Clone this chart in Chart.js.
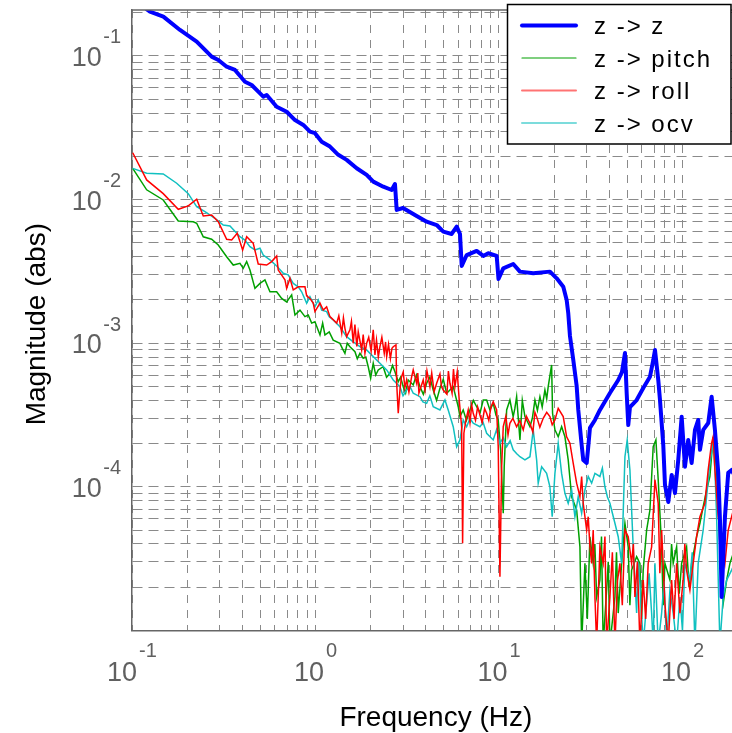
<!DOCTYPE html>
<html>
<head>
<meta charset="utf-8">
<script src="https://cdn.jsdelivr.net/npm/chart.js"></script>
<style>
  html, body { margin: 0; padding: 0; background: #fff; overflow: hidden; }
  #graph { display: block; }
</style>
</head>
<body>
<canvas id="graph" width="740" height="733"></canvas>
<script>
// Transfer magnitude from z excitation to each measured channel (abs, log-log)

// z -> z
const freqZ = [0.12, 0.1253, 0.1482, 0.1826, 0.2252, 0.2718, 0.2954, 0.3281, 0.364, 0.4127,
  0.449, 0.4879, 0.5193, 0.5421, 0.6144, 0.6966, 0.7732, 0.858, 0.9333, 0.9937,
  1.081, 1.199, 1.331, 1.479, 1.677, 1.901, 2.065, 2.342, 2.602, 2.711,
  2.77, 2.999, 3.56, 4.036, 4.577, 4.972, 5.524, 5.883, 6.132, 6.264,
  6.668, 7.559, 8.211, 8.743, 9.716, 9.94, 10.55, 11.96, 13.01, 15.38,
  18.96, 20.63, 22.41, 23.38, 23.86, 24.37, 25.41, 26.51, 27.05, 28.23,
  28.8, 30.06, 30.66, 31.32, 33.36, 35.51, 40.26, 44.68, 46.8, 48.6,
  49.65, 50.66, 51.75, 56.28, 61.15, 66.53, 69.34, 70.83, 73.82, 75.42,
  78.6, 80.3, 83.7, 87.34, 91.03, 94.86, 99.0, 103.2, 107.5, 112.2,
  117.0, 121.9, 124.6, 129.8, 138.2, 144.2, 150.3, 156.7, 160.1, 163.5,
  170.4, 177.6, 185.4, 198];
const magZ = [0.212, 0.2034, 0.1878, 0.1517, 0.1258, 0.0989, 0.0938, 0.0842, 0.0799, 0.0662,
  0.0628, 0.0564, 0.0521, 0.0535, 0.0443, 0.0409, 0.0358, 0.0331, 0.0297, 0.029,
  0.0253, 0.0234, 0.0205, 0.0189, 0.01652, 0.01484, 0.01333, 0.0123, 0.01166, 0.01284,
  0.00847, 0.00874, 0.00769, 0.00702, 0.00665, 0.00598, 0.00576, 0.00648, 0.00576, 0.00345,
  0.00411, 0.00439, 0.00405, 0.00423, 0.00405, 0.0028, 0.00332, 0.00356, 0.00315, 0.00307,
  0.00315, 0.00283, 0.00247, 0.002, 0.001615, 0.001122, 0.000764, 0.000503, 0.000343, 0.000195,
  0.0001537, 0.0001464, 0.00019, 0.000257, 0.000292, 0.000343, 0.00045, 0.000554, 0.00063, 0.000855,
  0.00045, 0.000269, 0.000359, 0.000402, 0.000488, 0.000584, 0.000764, 0.000897, 0.000554, 0.000402,
  0.000195, 0.000103, 0.0000784, 0.000121, 0.0000905, 0.000154, 0.000308, 0.000138, 0.000212, 0.0001464,
  0.000249, 0.000292, 0.000181, 0.000249, 0.000278, 0.000424, 0.000249, 0.000125, 0.0000587, 0.0000171,
  0.0000616, 0.000125, 0.000131, 0.000112];

// z -> pitch
const freqPitch = [0.1009, 0.1202, 0.148, 0.1787, 0.2157, 0.2252, 0.2446, 0.2717, 0.2952, 0.328,
  0.3563, 0.3876, 0.4039, 0.4216, 0.4394, 0.4678, 0.4982, 0.5304, 0.5648, 0.6143,
  0.6541, 0.6964, 0.7416, 0.7729, 0.8229, 0.8762, 0.913, 0.953, 0.9933, 1.058,
  1.094, 1.126, 1.188, 1.249, 1.359, 1.4, 1.447, 1.49, 1.541, 1.641,
  1.69, 1.747, 1.82, 1.88, 1.938, 1.998, 2.064, 2.13, 2.198, 2.339,
  2.44, 2.546, 2.63, 2.711, 2.825, 2.91, 3.007, 3.1, 3.202, 3.409,
  3.55, 3.709, 3.87, 4.035, 4.2, 4.382, 4.57, 4.767, 4.97, 5.186,
  5.632, 5.997, 6.127, 6.384, 6.65, 6.946, 7.25, 7.556, 7.9, 8.206,
  8.566, 8.928, 9.303, 9.626, 9.905, 10.21, 10.55, 10.68, 11.01, 11.47,
  11.95, 12.2, 12.48, 13.01, 13.4, 13.85, 14.75, 15.2, 15.7, 16.2,
  16.72, 17.2, 17.8, 18.2, 18.55, 19.36, 19.59, 20.18, 21.03, 21.95,
  22.88, 23.84, 24.89, 26.5, 27.62, 28.22, 29.41, 30.3, 31.31, 32.62,
  33.3, 34.06, 35.49, 36.2, 36.98, 38.61, 39.4, 40.24, 42.85, 43.7,
  44.65, 46.61, 48.58, 50.62, 51.7, 52.84, 56.26, 58.63, 59.9, 61.09,
  63.78, 66.47, 69.26, 71.67, 73.75, 76.99, 78.5, 80.24, 85.43, 87.2,
  89.02, 92.93, 96, 98.95, 105.3, 108.7, 112.2, 119.4, 124.5, 129.7,
  135.4, 141.1, 147.0, 153.5, 160.0, 166.7, 174.1, 181.4, 196];
const magPitch = [0.0165, 0.0117, 0.00994, 0.0071, 0.00701, 0.00684, 0.00551, 0.00529, 0.00483, 0.004,
  0.0035, 0.0036, 0.00332, 0.0037, 0.00323, 0.00241, 0.00261, 0.00276, 0.00228, 0.00228,
  0.00205, 0.00194, 0.00217, 0.00157, 0.0017, 0.00153, 0.00157, 0.00138, 0.00141, 0.00114,
  0.00138, 0.00114, 0.0012, 0.00105, 0.000998, 0.00092, 0.00085, 0.001, 0.000945, 0.000873,
  0.00078, 0.00085, 0.000785, 0.0008, 0.000686, 0.00057, 0.000725, 0.0006, 0.000651, 0.000686,
  0.00058, 0.000617, 0.0007, 0.000633, 0.000539, 0.00058, 0.000498, 0.00045, 0.000555, 0.000512,
  0.0006, 0.000498, 0.00044, 0.000526, 0.00058, 0.000472, 0.0004, 0.000485, 0.00056, 0.000448,
  0.000498, 0.000361, 0.000308, 0.000343, 0.00029, 0.000343, 0.0004, 0.000361, 0.00033, 0.000402,
  0.000402, 0.000343, 0.000381, 0.000316, 0.000292, 0.00018, 0.0000654, 0.000138, 0.000343, 0.000402,
  0.000308, 0.00035, 0.000424, 0.000212, 0.0004, 0.000308, 0.000262, 0.0003, 0.000402, 0.00034,
  0.000424, 0.00036, 0.000472, 0.00041, 0.000498, 0.000705, 0.000325, 0.000249, 0.000223, 0.000262,
  0.000223, 0.000154, 0.0000853, 0.0000689, 0.0000382, 0.000008, 0.0000293, 0.000012, 0.0000449, 0.0000293,
  0.00004, 0.0000171, 0.0000224, 0.000045, 0.000008, 0.0000191, 0.00003, 0.000008, 0.0000171, 0.000035,
  0.0000132, 0.0000293, 0.0000557, 0.0000382, 0.000015, 0.0000263, 0.0000326, 0.0000293, 0.000012, 0.0000263,
  0.00005, 0.0000689, 0.00019, 0.000212, 0.000112, 0.0000382, 0.000015, 0.0000293, 0.0000224, 0.00004,
  0.0000293, 0.0000382, 0.000018, 0.0000293, 0.0000382, 0.00002, 0.0000293, 0.0000449, 0.0000557, 0.0000727,
  0.000095, 0.000118, 0.000223, 0.000131, 0.0000382, 0.0000154, 0.0000224, 0.0000293, 0.0000394];

// z -> roll
const freqRoll = [0.1009, 0.1202, 0.148, 0.1787, 0.2026, 0.2252, 0.2446, 0.2717, 0.2952, 0.328,
  0.3493, 0.3746, 0.4008, 0.4216, 0.4578, 0.4875, 0.5419, 0.577, 0.6143, 0.6266,
  0.6817, 0.6964, 0.7259, 0.7564, 0.8054, 0.8407, 0.8762, 0.8951, 0.9329, 0.9721,
  0.9933, 1.058, 1.102, 1.15, 1.199, 1.305, 1.34, 1.39, 1.42, 1.447,
  1.478, 1.541, 1.57, 1.606, 1.64, 1.68, 1.71, 1.785, 1.82, 1.86,
  1.9, 1.95, 2.01, 2.064, 2.109, 2.15, 2.2, 2.245, 2.3, 2.37,
  2.41, 2.443, 2.5, 2.56, 2.61, 2.653, 2.745, 2.77, 2.825, 2.886,
  2.94, 3.007, 3.07, 3.139, 3.23, 3.343, 3.409, 3.559, 3.61, 3.662,
  3.865, 3.95, 4.05, 4.205, 4.3, 4.43, 4.575, 4.767, 4.86, 4.967,
  5.204, 5.3, 5.405, 5.55, 5.65, 5.755, 5.922, 6.072, 6.259, 6.335,
  6.439, 6.606, 6.798, 6.95, 7.1, 7.238, 7.45, 7.65, 7.875, 8.1,
  8.35, 8.566, 8.8, 9.05, 9.303, 9.711, 9.905, 10.12, 10.34, 10.55,
  10.9, 11.2, 11.47, 11.9, 12.48, 13.0, 13.56, 14.1, 14.75, 15.3,
  15.7, 16.04, 16.7, 17.42, 18.2, 18.95, 19.5, 20.18, 21.03, 22.39,
  23.37, 24.36, 25.38, 26.5, 27.62, 28.22, 28.78, 30.05, 30.65, 31.31,
  31.99, 32.62, 33.34, 34.06, 35.49, 36.98, 37.8, 38.61, 40.24, 41.5,
  42.85, 44.2, 45.62, 47.0, 48.58, 50.62, 52.84, 54.0, 55.07, 56.8,
  58.63, 61.09, 63.0, 65.05, 67.91, 70.78, 73.75, 75.3, 76.99, 80.24,
  83.61, 87.28, 90.0, 92.93, 96.86, 100.9, 103, 105.3, 109.8, 114.4,
  119.4, 124.5, 132.5, 138.1, 144.1, 147.0, 150.3, 156.6, 163.5, 170.4,
  177.6, 185.3, 196];
const magRoll = [0.0212, 0.0137, 0.011, 0.00856, 0.00903, 0.01005, 0.00769, 0.00781, 0.00701, 0.00529,
  0.00523, 0.00583, 0.00446, 0.00551, 0.00496, 0.00356, 0.0035, 0.0037, 0.00405, 0.00323,
  0.00276, 0.00241, 0.00283, 0.00235, 0.00247, 0.00247, 0.00247, 0.00214, 0.00205, 0.0019,
  0.00166, 0.0019, 0.0017, 0.00179, 0.00153, 0.00138, 0.00155, 0.00118, 0.0015, 0.00127,
  0.00111, 0.00124, 0.00142, 0.000998, 0.00135, 0.00095, 0.0012, 0.000897, 0.00115, 0.00085,
  0.000998, 0.0011, 0.00088, 0.00124, 0.000828, 0.00105, 0.0008, 0.000945, 0.0011, 0.00085,
  0.00102, 0.000806, 0.00098, 0.00078, 0.00092, 0.000945, 0.000972, 0.000526, 0.000325, 0.000472,
  0.00058, 0.00063, 0.00049, 0.000555, 0.000457, 0.000585, 0.000651, 0.000526, 0.00062, 0.00045,
  0.000555, 0.00047, 0.00064, 0.000498, 0.00062, 0.00046, 0.000526, 0.00061, 0.0005, 0.000472,
  0.000442, 0.00064, 0.000526, 0.00045, 0.00066, 0.000498, 0.000633, 0.000402, 0.000262, 0.0000404,
  0.000236, 0.000292, 0.000343, 0.00028, 0.00037, 0.000325, 0.00029, 0.00036, 0.000316, 0.00028,
  0.00035, 0.000325, 0.00029, 0.00036, 0.000391, 0.000343, 0.00019, 0.0000236, 0.000138, 0.000262,
  0.00031, 0.00023, 0.000277, 0.0003, 0.000262, 0.00029, 0.000249, 0.00031, 0.000277, 0.00024,
  0.00033, 0.000308, 0.00026, 0.0003, 0.00033, 0.000308, 0.00027, 0.000292, 0.000352, 0.000308,
  0.000223, 0.000201, 0.000146, 0.000106, 0.0000853, 0.000118, 0.0000768, 0.00005, 0.0000619, 0.0000382,
  0.0000293, 0.00005, 0.0000171, 0.000008, 0.0000382, 0.0000293, 0.000045, 0.000008, 0.0000171, 0.000035,
  0.000008, 0.000022, 0.0000293, 0.000015, 0.00005, 0.0000449, 0.0000293, 0.00004, 0.0000171, 0.00003,
  0.000008, 0.0000224, 0.000012, 0.0000293, 0.0000382, 0.000112, 0.0000768, 0.000025, 0.00005, 0.0000154,
  0.000008, 0.0000224, 0.000012, 0.0000293, 0.0000132, 0.0000224, 0.00004, 0.0000263, 0.0000191, 0.0000293,
  0.0000449, 0.0000619, 0.0000768, 0.000131, 0.000201, 0.000223, 0.000131, 0.0000619, 0.0000404, 0.0000293,
  0.00005, 0.0000619, 0.000081];

// z -> ocv
const freqOcv = [0.1009, 0.1202, 0.148, 0.1752, 0.2026, 0.2252, 0.2499, 0.2833, 0.3143, 0.3419,
  0.3876, 0.4127, 0.4394, 0.4678, 0.4982, 0.5191, 0.5648, 0.6143, 0.6672, 0.7103,
  0.7564, 0.8054, 0.8407, 0.8951, 0.9329, 0.9933, 1.035, 1.081, 1.15, 1.188,
  1.249, 1.359, 1.478, 1.606, 1.747, 1.9, 2.064, 2.245, 2.443, 2.653,
  2.886, 3.0, 3.139, 3.27, 3.409, 3.709, 3.85, 4.035, 4.2, 4.382,
  4.767, 5.076, 5.289, 5.632, 5.879, 6.127, 6.384, 6.665, 6.95, 7.238,
  7.875, 8.2, 8.566, 9.303, 9.7, 10.12, 10.55, 11.01, 11.5, 11.95,
  12.5, 13.01, 13.85, 14.75, 15.37, 16.04, 16.36, 17.08, 18.18, 18.95,
  19.5, 20.18, 21.03, 21.95, 22.88, 23.84, 24.89, 25.94, 27.03, 28.22,
  29.41, 30.65, 31.99, 33.34, 35.49, 36.6, 37.79, 39.0, 40.24, 42.85,
  44.65, 46.61, 48.58, 49.99, 51.72, 53.89, 56.26, 57.4, 58.63, 61.09,
  63.78, 65.8, 67.91, 69.3, 70.78, 73.75, 76.99, 79.4, 81.97, 85.43,
  89.02, 92.93, 96.86, 100, 103.1, 109.8, 113, 116.9, 121.8, 129.7,
  135.4, 141.1, 147.0, 150.3, 153.5, 160.0, 166.7, 174.1, 185.3, 196];
const magOcv = [0.0165, 0.01527, 0.0151, 0.013, 0.011, 0.00892, 0.00824, 0.00741, 0.00665, 0.00655,
  0.00551, 0.00523, 0.0047, 0.00446, 0.00458, 0.00411, 0.0038, 0.00345, 0.00307, 0.00299,
  0.00261, 0.00247, 0.00228, 0.0019, 0.00211, 0.00179, 0.002, 0.0017, 0.00166, 0.00153,
  0.00145, 0.0013, 0.00111, 0.00102, 0.000945, 0.000897, 0.000806, 0.000725, 0.000651, 0.000555,
  0.000498, 0.00043, 0.000472, 0.0005, 0.000448, 0.000424, 0.00039, 0.000381, 0.00043, 0.000361,
  0.000343, 0.000402, 0.000343, 0.000262, 0.00019, 0.000212, 0.000292, 0.000262, 0.0003, 0.000277,
  0.000262, 0.00028, 0.000236, 0.000212, 0.00025, 0.000201, 0.00022, 0.00019, 0.00021, 0.000181,
  0.00017, 0.000162, 0.000154, 0.000162, 0.000249, 0.000154, 0.000106, 0.000138, 0.000124, 0.0001,
  0.0000619, 0.000124, 0.000201, 0.000124, 0.0000901, 0.0000768, 0.000095, 0.0000619, 0.0000853, 0.0000654,
  0.000095, 0.000118, 0.000106, 0.000124, 0.000118, 0.000135, 0.0001, 0.000085, 0.0000768, 0.0000557,
  0.0000449, 0.0000293, 0.000162, 0.000212, 0.000131, 0.0000382, 0.0000132, 0.00003, 0.0000213, 0.000008,
  0.0000154, 0.000025, 0.0000132, 0.000008, 0.0000293, 0.000008, 0.0000132, 0.000022, 0.000008, 0.0000191,
  0.0000132, 0.000008, 0.0000171, 0.00001, 0.0000293, 0.0000224, 0.000035, 0.000008, 0.0000293, 0.00005,
  0.0000853, 0.000146, 0.000201, 0.000131, 0.0000619, 0.000008, 0.0000171, 0.0000224, 0.0000263, 0.0000309];

const seriesNames = ['z -> z', 'z -> pitch', 'z -> roll', 'z -> ocv'];

// grid positions and decade labels
const xGridValues = [0.1, 0.2, 0.3, 0.4, 0.5, 0.6, 0.7, 0.8, 0.9,
  1, 2, 3, 4, 5, 6, 7, 8, 9,
  10, 20, 30, 40, 50, 60, 70, 80, 90,
  100, 200];
const yGridValues = [0.00001, 0.00002, 0.00003, 0.00004, 0.00005, 0.00006, 0.00007, 0.00008, 0.00009,
  0.0001, 0.0002, 0.0003, 0.0004, 0.0005, 0.0006, 0.0007, 0.0008, 0.0009,
  0.001, 0.002, 0.003, 0.004, 0.005, 0.006, 0.007, 0.008, 0.009,
  0.01, 0.02, 0.03, 0.04, 0.05, 0.06, 0.07, 0.08, 0.09,
  0.1, 0.2];
const xLabelPowers = [-1, 0, 1, 2];
const yLabelPowers = [-4, -3, -2, -1];

const FONT = '"Liberation Sans", Arial, Helvetica, sans-serif';
const axisGrey = '#666666';
const gridGrey = '#8a8a8a';
const labelGrey = '#606060';

function toPoints(fs, ms) {
  return fs.map((f, i) => ({ x: f, y: ms[i] }));
}

// top edge of the axes box (left and bottom come from the scale borders)
const topEdge = {
  id: 'topEdge',
  afterDraw(chart) {
    const { ctx, chartArea } = chart;
    ctx.save();
    ctx.strokeStyle = axisGrey;
    ctx.lineWidth = 1.5;
    ctx.beginPath();
    ctx.moveTo(chartArea.left, chartArea.top);
    ctx.lineTo(chartArea.right, chartArea.top);
    ctx.stroke();
    ctx.restore();
  }
};

// "10" with a raised exponent, plus axis titles
const powerLabels = {
  id: 'powerLabels',
  afterDraw(chart) {
    const { ctx, chartArea, scales } = chart;
    const baseFont = '27px ' + FONT;
    const expFont = '20px ' + FONT;
    ctx.save();
    ctx.fillStyle = labelGrey;
    ctx.textAlign = 'left';
    ctx.textBaseline = 'alphabetic';

    xLabelPowers.forEach(p => {
      const px = scales.x.getPixelForValue(Math.pow(10, p));
      ctx.font = baseFont;
      const wb = ctx.measureText('10').width;
      ctx.font = expFont;
      const we = ctx.measureText(String(p)).width;
      const left = px - (wb + 2 + we) / 2;
      ctx.font = baseFont;
      ctx.fillText('10', left, chartArea.bottom + 51);
      ctx.font = expFont;
      ctx.fillText(String(p), left + wb + 2, chartArea.bottom + 26.5);
    });

    yLabelPowers.forEach(p => {
      const py = scales.y.getPixelForValue(Math.pow(10, p));
      const right = chartArea.left - 11;
      ctx.font = expFont;
      const we = ctx.measureText(String(p)).width;
      ctx.fillText(String(p), right - we, py - 12.5);
      ctx.font = baseFont;
      const wb = ctx.measureText('10').width;
      ctx.fillText('10', right - we - 1.5 - wb, py + 10);
    });

    ctx.fillStyle = '#000';
    ctx.font = '28px ' + FONT;
    ctx.textAlign = 'center';
    ctx.fillText('Frequency (Hz)', (chartArea.left + chartArea.right) / 2 + 1, chartArea.bottom + 95.5);
    ctx.translate(44.5, (chartArea.top + chartArea.bottom) / 2 + 4);
    ctx.rotate(-Math.PI / 2);
    ctx.fillText('Magnitude (abs)', 0, 0);
    ctx.restore();
  }
};

// boxed legend in the upper right corner
const boxLegend = {
  id: 'boxLegend',
  afterDraw(chart) {
    const ctx = chart.ctx;
    ctx.save();
    ctx.fillStyle = '#fff';
    ctx.fillRect(507.5, 4.5, 223.5, 139.5);
    ctx.strokeStyle = '#000';
    ctx.lineWidth = 1.5;
    ctx.strokeRect(507.5, 4.5, 223.5, 139.5);
    ctx.font = '24px ' + FONT;
    ctx.letterSpacing = '2px';
    ctx.textAlign = 'left';
    ctx.textBaseline = 'alphabetic';
    chart.data.datasets.forEach((ds, i) => {
      const yy = 25.5 + i * 32.5;
      ctx.save();
      ctx.strokeStyle = ds.borderColor;
      ctx.lineWidth = i === 0 ? 4 : (i === 1 ? 1.2 : 2);
      ctx.globalAlpha = i >= 2 ? 0.55 : 1;
      ctx.lineCap = 'round';
      ctx.beginPath();
      ctx.moveTo(522, yy);
      ctx.lineTo(576, yy);
      ctx.stroke();
      ctx.restore();
      ctx.fillStyle = '#000';
      ctx.fillText(ds.label, 594, yy + 8.5);
    });
    ctx.restore();
  }
};

const ctx = document.getElementById('graph').getContext('2d');
new Chart(ctx, {
  type: 'line',
  data: {
    datasets: [
      { label: seriesNames[0], data: toPoints(freqZ, magZ), borderColor: '#0000ff', borderWidth: 4, order: 0, borderJoinStyle: 'round', borderCapStyle: 'round' },
      { label: seriesNames[1], data: toPoints(freqPitch, magPitch), borderColor: '#00a000', borderWidth: 1.5, order: 3 },
      { label: seriesNames[2], data: toPoints(freqRoll, magRoll), borderColor: '#ff0000', borderWidth: 1.5, order: 1 },
      { label: seriesNames[3], data: toPoints(freqOcv, magOcv), borderColor: '#10c0c0', borderWidth: 1.5, order: 2 }
    ]
  },
  options: {
    responsive: false,
    animation: false,
    layout: { padding: { left: 132, top: 10, right: 2.3, bottom: 102.6 } },
    elements: {
      point: { radius: 0 },
      line: { tension: 0, fill: false }
    },
    plugins: {
      legend: { display: false },
      tooltip: { enabled: false }
    },
    scales: {
      x: {
        type: 'logarithmic',
        min: 0.1,
        max: 200,
        ticks: { display: false },
        grid: { color: gridGrey, lineWidth: 1, drawTicks: false },
        border: { color: axisGrey, width: 1.5, dash: [8, 7] },
        afterBuildTicks: scale => { scale.ticks = xGridValues.map(v => ({ value: v })); }
      },
      y: {
        type: 'logarithmic',
        min: 0.00001,
        max: 0.209,
        ticks: { display: false },
        grid: { color: gridGrey, lineWidth: 1, drawTicks: false },
        border: { color: axisGrey, width: 1.5, dash: [10, 6] },
        afterBuildTicks: scale => { scale.ticks = yGridValues.map(v => ({ value: v })); }
      }
    }
  },
  plugins: [topEdge, powerLabels, boxLegend]
});
</script>
</body>
</html>
